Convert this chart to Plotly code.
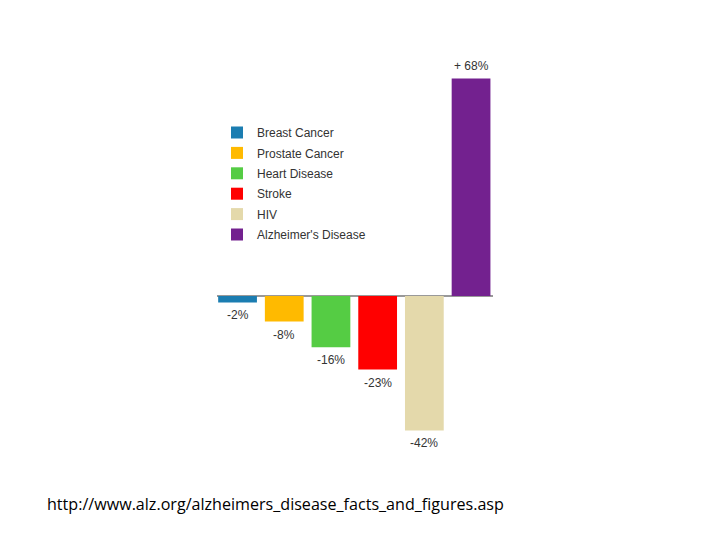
import plotly.graph_objects as go

categories = ["Breast Cancer", "Prostate Cancer", "Heart Disease", "Stroke", "HIV", "Alzheimer's Disease"]
values = [-2, -8, -16, -23, -42, 68]
labels = ["-2%", "-8%", "-16%", "-23%", "-42%", "+ 68%"]
colors = ["#1b7db1", "#ffba00", "#55cc44", "#ff0000", "#e4d9ab", "#73218f"]
source_text = "http://www.alz.org/alzheimers_disease_facts_and_figures.asp"

fig = go.Figure()
for cat, val, col in zip(categories, values, colors):
    fig.add_trace(go.Bar(x=[cat], y=[val], name=cat, legendgroup=cat,
                         marker=dict(color=col, line=dict(width=0)), hoverinfo="skip"))

for cat, val, lab in zip(categories, values, labels):
    fig.add_annotation(x=cat, y=val, text=lab, showarrow=False, yanchor="middle",
                       yshift=12 if val > 0 else -13,
                       font=dict(family="Liberation Sans, Arial", size=12, color="#333333"))

fig.add_annotation(xref="paper", yref="paper", x=-0.623, y=-0.11, xanchor="left", yanchor="middle",
                   text=source_text, showarrow=False,
                   font=dict(family="Open Sans, Calibri", size=16.1, color="#000000"))

fig.update_layout(
    width=720, height=540,
    margin=dict(l=209, r=235, t=52, b=88),
    paper_bgcolor="white", plot_bgcolor="white",
    barmode="relative", bargap=0.17,
    showlegend=True,
    legend=dict(x=0.0, y=0.855, xanchor="left", yanchor="top", bgcolor="rgba(0,0,0,0)",
                font=dict(family="Liberation Sans, Arial", size=12, color="#333333"),
                traceorder="grouped", tracegroupgap=1.4),
    xaxis=dict(type="category", categoryorder="array", categoryarray=categories,
               range=[-0.44, 5.47], showticklabels=False, showgrid=False, zeroline=False,
               showline=False, ticks=""),
    yaxis=dict(range=[-51.25, 73.75], showticklabels=False, showgrid=False,
               zeroline=True, zerolinecolor="#999999", zerolinewidth=1.5, showline=False, ticks=""),
)

fig.write_html("out.html")
